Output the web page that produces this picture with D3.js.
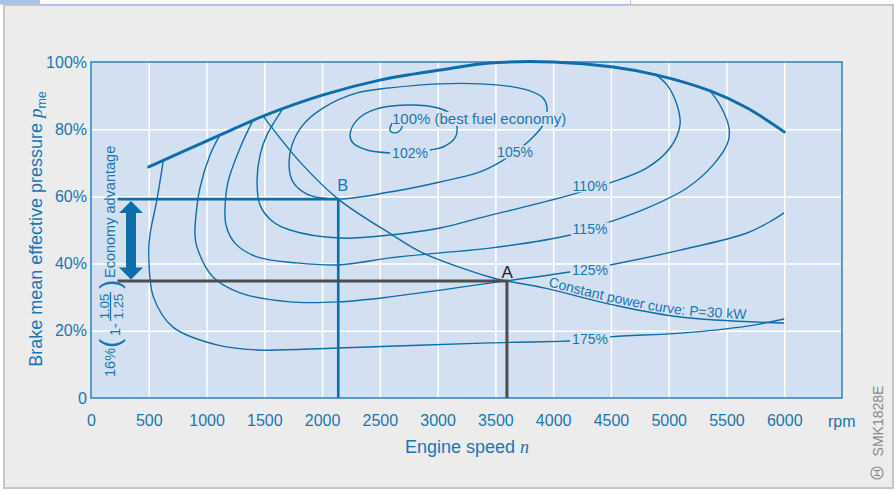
<!DOCTYPE html>
<html><head><meta charset="utf-8">
<script src="https://cdn.jsdelivr.net/npm/d3@7"></script>
<style>
html,body{margin:0;padding:0;background:#fff;}
svg{display:block;font-family:"Liberation Sans",Arial,Helvetica,sans-serif;}
</style></head><body>
<svg id="c" width="895" height="491"></svg>
<script>
// ---------- data ----------
const xTicks = [0,500,1000,1500,2000,2500,3000,3500,4000,4500,5000,5500,6000];
const yTicks = [0,20,40,60,80,100];
const yTickLabels = ["0","20%","40%","60%","80%","100%"];

// full-load (wide open throttle) curve
const wotRpm = [500,1120,1490,2010,2500,3020,3450,4000,4520,4900,5360,5680,6000];
const wotPme = [68.8,78.3,83.9,90.2,94.6,97.6,99.7,100,98.5,96.1,91.4,86.3,79.2];

// specific fuel consumption contours (relative to best)
const c100Rpm = [2605,2588,2630,2680,2692];
const c100Pme = [81.8,79.6,78.9,79.8,81.0];
const c102Rpm = [2242,2302,2441,2735,3003,3125,3168,3150,3047,2934,2761,2605,2389,2268];
const c102Pme = [78.3,82.7,85.7,87.2,86.3,84.2,80.7,77.4,74.7,73.8,72.9,72.9,73.8,75.9];
const c105Rpm = [2138,2588,3021,3367,3540,3670,3800,3912,3947,3912,3800,3652,3367,3021,2588,2302,2008,1835,1740,1714,1748,1869];
const c105Pme = [59.2,61.3,64.3,67.3,70.2,73.2,76.8,81.3,86.3,89.3,91.4,92.6,93.5,93.5,92.3,90.8,86.3,81.3,75.3,69.3,64.3,60.7];
const c110Rpm = [1653,1523,1463,1437,1463,1567,1722,2155,2588,3021,3367,4146,4492,4812,5011,5098,5072,4985,4881];
const c110Pme = [85.7,78.3,72.3,64.3,57.4,52.7,50.0,47.6,48.5,50.6,53.6,60.4,64.0,68.5,74.4,81.3,87.2,93.2,96.4];
const c115Rpm = [1402,1290,1186,1160,1168,1246,1437,1783,2138,2588,3021,3453,4146,4466,4812,5158,5383,5513,5522,5444,5357];
const c115Pme = [82.7,74.4,64.3,56.5,51.5,46.1,42.0,40.2,39.6,41.7,43.2,44.6,48.5,52.1,56.5,62.5,69.3,76.2,80.4,87.2,91.4];
const c125Rpm = [1116,1030,943,909,900,917,1056,1290,1722,2138,2588,3453,4146,4492,5098,5678,5903,5998];
const c125Pme = [78.3,72.3,62.5,54.5,48.5,44.9,36.0,31.3,28.6,28.6,30.1,34.2,37.5,39.6,44.0,49.1,53.0,55.1];
const c175Rpm = [625,570,510,500,540,710,1090,1440,2140,3450,4320,4490,5100,5680,6000];
const c175Pme = [70.5,58.9,48.5,43.2,30.1,21.1,15.8,14.3,14.9,16.4,17.3,18.2,19.3,21.4,23.5];

// constant power curve P = 30 kW
const cpRpm = [1490,1810,2140,2610,2870,3450,3600,3930,4520,5100,6000];
const cpPme = [83.9,70.2,59.2,48.5,43.2,36.0,34.8,32.7,27.7,24.1,22.3];

// operating points
const pointA = {rpm:3600, pme:34.8};
const pointB = {rpm:2140, pme:59.2};
const economyLineStartRpm = 230;

// contour labels
const contourLabels = [
  {t:"102%", rpm:2761, pme:72.9},
  {t:"105%", rpm:3670, pme:73.2},
  {t:"110%", rpm:4319, pme:63.1},
  {t:"115%", rpm:4319, pme:50.3},
  {t:"125%", rpm:4319, pme:38.1},
  {t:"175%", rpm:4319, pme:17.4}
];
const bestLabel = {t:"100% (best fuel economy)", rpm:2605, pme:83.0};

// ---------- styles ----------
const BLUE = "#0e6dab", TXT = "#1976b5", PLOTBG = "#d3e0f1", PANEL = "#ebeceb";

const svg = d3.select("#c");
const X0=91, X1=842, Y0=398, Y1=62;
const x = d3.scaleLinear().domain([0,6500]).range([X0,X1]);
const y = d3.scaleLinear().domain([0,100]).range([Y0,Y1]);

// panel
svg.append("rect").attr("x",4).attr("y",5).attr("width",889).attr("height",483)
  .attr("fill",PANEL).attr("stroke","#c6c6c6").attr("stroke-width",2);
// header strip
svg.append("rect").attr("x",0).attr("y",0).attr("width",40).attr("height",4.5).attr("fill","#a8c3e6");
svg.append("rect").attr("x",39.5).attr("y",-2).attr("width",591).attr("height",6.5)
  .attr("fill","#fff").attr("stroke","#a8c3e6").attr("stroke-width",1);

// plot background
svg.append("rect").attr("x",X0).attr("y",Y1).attr("width",X1-X0).attr("height",Y0-Y1).attr("fill",PLOTBG);

// grid
svg.append("g").attr("transform",`translate(0,${Y0})`)
  .call(d3.axisBottom(x).tickValues(xTicks.filter(d=>d>0)).tickSize(-(Y0-Y1)).tickFormat(""))
  .call(g=>{g.select(".domain").remove(); g.selectAll("line").attr("stroke","#fff").attr("stroke-width",1.5);});
svg.append("g").attr("transform",`translate(${X0},0)`)
  .call(d3.axisLeft(y).tickValues(yTicks.filter(d=>d>0&&d<100)).tickSize(-(X1-X0)).tickFormat(""))
  .call(g=>{g.select(".domain").remove(); g.selectAll("line").attr("stroke","#fff").attr("stroke-width",1.5);});

// plot border
svg.append("rect").attr("x",X0).attr("y",Y1).attr("width",X1-X0).attr("height",Y0-Y1)
  .attr("fill","none").attr("stroke","#1d7bb8").attr("stroke-width",1.4);

// mask for contour labels
const defs = svg.append("defs");
const mask = defs.append("mask").attr("id","lblmask").attr("maskUnits","userSpaceOnUse")
  .attr("x",0).attr("y",0).attr("width",895).attr("height",491);
mask.append("rect").attr("x",0).attr("y",0).attr("width",895).attr("height",491).attr("fill","white");

const zip = (a,b)=>a.map((v,i)=>[v,b[i]]);
const lineOpen = d3.line().x(d=>x(d[0])).y(d=>y(d[1])).curve(d3.curveCatmullRom.alpha(0.5));
const lineClosed = d3.line().x(d=>x(d[0])).y(d=>y(d[1])).curve(d3.curveCatmullRomClosed.alpha(0.5));

const cg = svg.append("g").attr("mask","url(#lblmask)").attr("fill","none").attr("stroke",BLUE).attr("stroke-width",1.4);
cg.append("path").attr("d",lineClosed(zip(c102Rpm,c102Pme)));
cg.append("path").attr("d",lineClosed(zip(c105Rpm,c105Pme)));
cg.append("path").attr("d",lineOpen(zip(c110Rpm,c110Pme)));
cg.append("path").attr("d",lineOpen(zip(c115Rpm,c115Pme)));
cg.append("path").attr("d",lineOpen(zip(c125Rpm,c125Pme)));
cg.append("path").attr("d",lineOpen(zip(c175Rpm,c175Pme)));

// 100% curl (unmasked)
svg.append("path").attr("d",lineOpen(zip(c100Rpm,c100Pme))).attr("fill","none").attr("stroke",BLUE).attr("stroke-width",1.4);

// constant power curve
svg.append("path").attr("d",lineOpen(zip(cpRpm,cpPme))).attr("fill","none").attr("stroke",BLUE).attr("stroke-width",1.4);

// full-load curve
svg.append("path").attr("d",lineOpen(zip(wotRpm,wotPme))).attr("fill","none").attr("stroke",BLUE).attr("stroke-width",3).attr("stroke-linecap","round");

// labels
const lblG = svg.append("g").attr("fill",TXT);
contourLabels.forEach(l=>{
  const t = lblG.append("text").attr("x",x(l.rpm)).attr("y",y(l.pme)).attr("dy","0.35em")
    .attr("text-anchor","middle").attr("font-size",14).text(l.t);
  const b = t.node().getBBox();
  mask.append("rect").attr("x",b.x-2).attr("y",b.y+1.5).attr("width",b.width+4).attr("height",b.height-3).attr("fill","black");
});
{
  const t = lblG.append("text").attr("x",x(bestLabel.rpm)).attr("y",y(bestLabel.pme)).attr("dy","0.35em")
    .attr("text-anchor","start").attr("font-size",15).text(bestLabel.t);
  const b = t.node().getBBox();
  mask.append("rect").attr("x",b.x-1).attr("y",b.y+1.5).attr("width",b.width+3).attr("height",b.height-3).attr("fill","black");
}

// text along constant power curve
const cpText = zip(cpRpm,cpPme).filter(d=>d[0]>=3930);
defs.append("path").attr("id","cpPath")
  .attr("d",d3.line().x(d=>x(d[0])).y(d=>y(d[1])-2.5).curve(d3.curveCatmullRom.alpha(0.5))(cpText));
svg.append("text").attr("font-size",14).attr("fill",TXT)
  .append("textPath").attr("href","#cpPath").attr("startOffset",3).text("Constant power curve: P=30 kW");

// operating point B lines
svg.append("path").attr("fill","none").attr("stroke",BLUE).attr("stroke-width",2.6)
  .attr("d",`M${x(economyLineStartRpm)},${y(pointB.pme)}H${x(pointB.rpm)}V${Y0}`);
// operating point A lines
svg.append("path").attr("fill","none").attr("stroke","#4d4d4d").attr("stroke-width",3)
  .attr("d",`M${x(economyLineStartRpm)},${y(pointA.pme)}H${x(pointA.rpm)}V${Y0}`);

svg.append("text").attr("x",x(pointB.rpm)-1).attr("y",y(pointB.pme)-8).attr("font-size",16.5).attr("fill",TXT).text("B");
svg.append("text").attr("x",x(pointA.rpm)-5.5).attr("y",y(pointA.pme)-3.5).attr("font-size",17).attr("fill","#222").text("A");

// double arrow
{
  const xc = X0+40, yT = y(pointB.pme)+2, yB = y(pointA.pme)-1.5, hl=12, hw=12, sw=5;
  svg.append("path").attr("fill",BLUE)
    .attr("d",`M${xc},${yT}L${xc+hw},${yT+hl}L${xc+sw},${yT+hl}L${xc+sw},${yB-hl}L${xc+hw},${yB-hl}L${xc},${yB}L${xc-hw},${yB-hl}L${xc-sw},${yB-hl}L${xc-sw},${yT+hl}L${xc-hw},${yT+hl}Z`);
}

// economy advantage annotation
{
  const g = svg.append("g").attr("transform","translate(115,377) rotate(-90)").attr("fill",TXT);
  g.append("text").attr("x",0).attr("y",0).attr("font-size",14.5).text("16%");
  g.append("text").attr("x",29).attr("y",3.5).attr("font-size",28).text("(");
  g.append("text").attr("x",41).attr("y",5).attr("font-size",14.5).text("1-");
  g.append("text").attr("x",70.5).attr("y",-6).attr("font-size",13).attr("text-anchor","middle").text("1.05");
  g.append("line").attr("x1",56).attr("x2",85).attr("y1",-4.5).attr("y2",-4.5).attr("stroke",TXT).attr("stroke-width",1.3);
  g.append("text").attr("x",70.5).attr("y",8).attr("font-size",13).attr("text-anchor","middle").text("1.25");
  g.append("text").attr("x",88).attr("y",3.5).attr("font-size",28).text(")");
  g.append("text").attr("x",99).attr("y",0).attr("font-size",14.5).text("Economy advantage");
}

// axes labels
svg.append("g").attr("transform",`translate(0,${Y0})`)
  .call(d3.axisBottom(x).tickValues(xTicks).tickSize(0).tickPadding(17).tickFormat(d3.format("d")))
  .call(g=>{g.select(".domain").remove(); g.selectAll("text").attr("font-size",16).attr("fill",TXT).attr("font-family","Liberation Sans, Arial, sans-serif");});
svg.append("g").attr("transform",`translate(${X0},0)`)
  .call(d3.axisLeft(y).tickValues(yTicks).tickSize(0).tickPadding(4).tickFormat((d,i)=>yTickLabels[i]))
  .call(g=>{g.select(".domain").remove(); g.selectAll("text").attr("font-size",16).attr("fill",TXT).attr("font-family","Liberation Sans, Arial, sans-serif");});

svg.append("text").attr("x",828).attr("y",427).attr("font-size",16).attr("fill",TXT).text("rpm");

// x title
{
  const t = svg.append("text").attr("x",467).attr("y",453).attr("text-anchor","middle").attr("font-size",18).attr("fill",TXT);
  t.append("tspan").text("Engine speed ");
  t.append("tspan").attr("font-family","Liberation Serif, serif").attr("font-style","italic").text("n");
}
// y title
{
  const t = svg.append("text").attr("transform","translate(42,229) rotate(-90)").attr("text-anchor","middle").attr("font-size",18).attr("fill",TXT);
  t.append("tspan").text("Brake mean effective pressure ");
  t.append("tspan").attr("font-family","Liberation Serif, serif").attr("font-style","italic").attr("font-size",19).text("p");
  t.append("tspan").attr("font-size",12.5).attr("dy",4).text("me");
}

// source code
svg.append("text").attr("transform","translate(883,421) rotate(-90)").attr("text-anchor","middle")
  .attr("font-size",14).attr("fill","#8a8a8a").text("SMK1828E");
{
  const g = svg.append("g").attr("transform","translate(877,473)").attr("fill","none").attr("stroke","#8a8a8a").attr("stroke-width",1.1);
  g.append("circle").attr("r",6);
  g.append("line").attr("x1",-3).attr("x2",3).attr("y1",-2.5).attr("y2",-2.5);
  g.append("line").attr("x1",-3).attr("x2",3).attr("y1",2.5).attr("y2",2.5);
  g.append("line").attr("x1",0).attr("x2",0).attr("y1",-2.5).attr("y2",2.5);
}
</script>
</body></html>
